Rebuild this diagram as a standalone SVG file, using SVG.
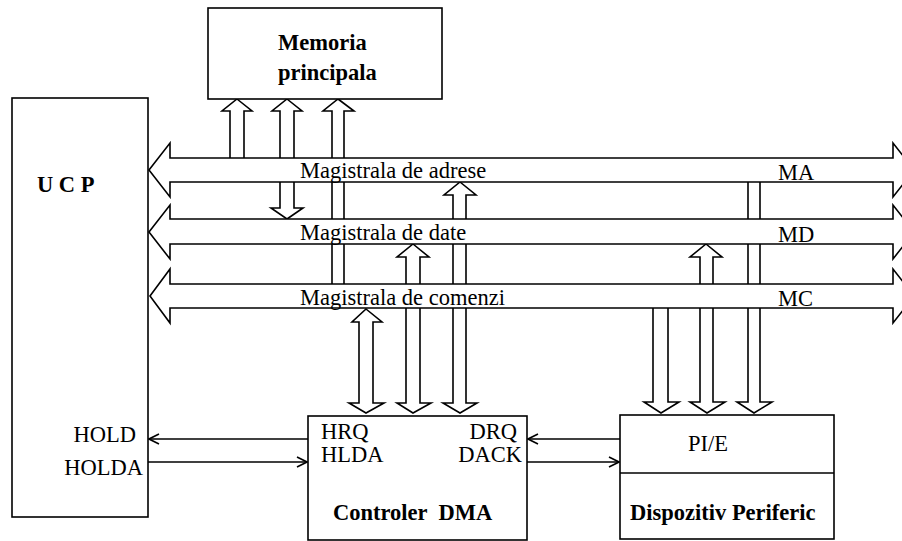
<svg xmlns="http://www.w3.org/2000/svg" width="902" height="541" viewBox="0 0 902 541">
<style>
  .box { fill: #fff; stroke: #000; stroke-width: 1.6; }
  .bus { fill: #fff; stroke: #000; stroke-width: 1.6; stroke-linejoin: miter; }
  .va { fill: #fff; stroke: #000; stroke-width: 1.6; }
  .ln { fill: none; stroke: #000; stroke-width: 1.6; }
  text { font-family: "Liberation Serif", "Times New Roman", serif; font-size: 22.5px; fill: #000; }
  .b { font-weight: bold; }
</style>
<defs>
  <marker id="open" viewBox="0 0 12 12" refX="11" refY="6" markerWidth="12" markerHeight="12" markerUnits="userSpaceOnUse" orient="auto">
    <path d="M1,1 L11,6 L1,11" fill="none" stroke="#000" stroke-width="1.6"/>
  </marker>
</defs>
<rect width="902" height="541" fill="#fff"/>

<g id="connectors">
  <!-- memory arrows -->
  <polygon class="va" points="237,99 252,111 244,111 244,160 230,160 230,111 222,111"/>
  <polygon class="va" points="287,99 302,111 294,111 294,160 280,160 280,111 272,111"/>
  <polygon class="va" points="287,219 303,208 294,208 294,180 280,180 280,208 271,208"/>
  <polygon class="va" points="338,99 354,111 344,111 344,286 332,286 332,111 323,111"/>
  <!-- DMA arrows -->
  <polygon class="va" points="366,309 382,322 373,322 373,403 384,403 366,413 349,403 359,403 359,322 352,322"/>
  <polygon class="va" points="413,244 429,257 420,257 420,403 431,403 413,413 397,403 406,403 406,257 397,257"/>
  <polygon class="va" points="460,182 476,195 466,195 466,403 477,403 460,413 443,403 453,403 453,195 444,195"/>
  <!-- peripheral arrows -->
  <polygon class="va" points="653,300 668,300 668,402 679,402 661,413 644,402 653,402"/>
  <polygon class="va" points="706,244 722,257 713,257 713,402 725,402 707,413 690,402 700,402 700,257 690,257"/>
  <polygon class="va" points="748,180 760,180 760,402 772,402 754,413 737,402 748,402"/>
  <!-- control lines -->
  <line class="ln" x1="308" y1="439" x2="149" y2="439" marker-end="url(#open)"/>
  <line class="ln" x1="148" y1="462" x2="307" y2="462" marker-end="url(#open)"/>
  <line class="ln" x1="620" y1="439" x2="528" y2="439" marker-end="url(#open)"/>
  <line class="ln" x1="527" y1="462" x2="619" y2="462" marker-end="url(#open)"/>
</g>

<g id="bus-ma">
  <polygon class="bus" points="149,170 170,143 170,158 893,158 893,143 914,170 893,197 893,182 170,182 170,197"/>
  <text x="300" y="178">Magistrala de adrese</text>
  <text x="778" y="180">MA</text>
</g>
<g id="bus-md">
  <polygon class="bus" points="149,232 170,205 170,219 893,219 893,205 914,232 893,259 893,244 170,244 170,259"/>
  <text x="300" y="240">Magistrala de date</text>
  <text x="778" y="242">MD</text>
</g>
<g id="bus-mc">
  <polygon class="bus" points="150,296 170,269 170,284 893,284 893,269 914,296 893,323 893,308 170,308 170,323"/>
  <text x="300" y="305">Magistrala de comenzi</text>
  <text x="778" y="306">MC</text>
</g>

<g id="memorie">
  <rect class="box" x="208" y="8" width="234" height="91"/>
  <text class="b" x="278" y="50">Memoria</text>
  <text class="b" x="278" y="80">principala</text>
</g>

<g id="ucp">
  <rect class="box" x="12" y="98" width="136" height="419"/>
  <text class="b" x="37" y="192" xml:space="preserve">U C P</text>
  <text x="136" y="442" text-anchor="end">HOLD</text>
  <text x="143" y="475" text-anchor="end">HOLDA</text>
</g>

<g id="dma">
  <rect class="box" x="308" y="416" width="219" height="124"/>
  <text x="321" y="439">HRQ</text>
  <text x="321" y="462">HLDA</text>
  <text x="517" y="439" text-anchor="end">DRQ</text>
  <text x="522" y="462" text-anchor="end">DACK</text>
  <text class="b" x="333" y="520" xml:space="preserve">Controler  DMA</text>
</g>

<g id="periferic">
  <rect class="box" x="620" y="415" width="214" height="124"/>
  <line class="ln" x1="620" y1="473" x2="834" y2="473"/>
  <text x="688" y="451">PI/E</text>
  <text class="b" x="630" y="520">Dispozitiv Periferic</text>
</g>
</svg>
